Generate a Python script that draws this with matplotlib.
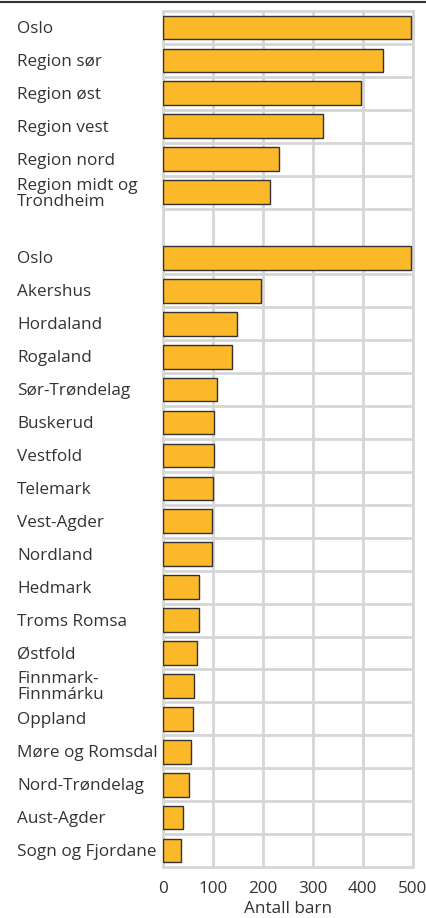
import matplotlib
matplotlib.use("Agg")
import matplotlib.pyplot as plt
from matplotlib.lines import Line2D
import matplotlib.transforms as mtransforms

plt.rcParams['font.family'] = ['Open Sans', 'DejaVu Sans']

categories = ["Oslo", "Region sør", "Region øst", "Region vest", "Region nord",
              "Region midt og\nTrondheim", "",
              "Oslo", "Akershus", "Hordaland", "Rogaland", "Sør-Trøndelag",
              "Buskerud", "Vestfold", "Telemark", "Vest-Agder", "Nordland",
              "Hedmark", "Troms Romsa", "Østfold", "Finnmark-\nFinnmárku",
              "Oppland", "Møre og Romsdal", "Nord-Trøndelag", "Aust-Agder",
              "Sogn og Fjordane"]
values = [496, 440, 397, 321, 232, 215, None,
          496, 196, 149, 138, 109, 102, 102, 100, 98, 98, 73, 72,
          69, 63, 61, 57, 53, 41, 37]
xticks = [0, 100, 200, 300, 400, 500]
xlabel = "Antall barn"

W, H = 426, 918
fig = plt.figure(figsize=(W/100, H/100), dpi=100)
ax = fig.add_axes([163/W, 1-867/H, (412.7-163)/W, (867-11)/H])

text_col = '#333333'
grid_col = '#d6d6d6'
bar_col = '#fbb829'
fs = 12.3

n = len(categories)
pos = list(range(n))
for i, v in zip(pos, values):
    if v is None:
        continue
    ax.barh(i, v, height=0.72, color=bar_col, edgecolor='#333333', linewidth=1.0, zorder=3)

ax.set_xlim(0, 500)
ax.set_ylim(n - 0.5, -0.5)
ax.set_xticks(xticks)
ax.set_xticklabels([str(t) for t in xticks], fontsize=fs, color=text_col)
ax.tick_params(axis='x', length=0, pad=10)
ax.set_yticks([])
ax.grid(axis='x', color=grid_col, linewidth=2, zorder=0)
ax.set_axisbelow(True)
blank = categories.index("")
for k in range(n - 1):
    if k == blank:
        continue
    ax.axhline(k + 0.5, color=grid_col, linewidth=2, zorder=0)
for s in ax.spines.values():
    s.set_color(grid_col)
    s.set_linewidth(2)

ax.set_xlabel(xlabel, fontsize=fs, color=text_col, labelpad=3)

trans = mtransforms.blended_transform_factory(fig.transFigure, ax.transData)
trans = trans + mtransforms.ScaledTranslation(0, -1.5/100, fig.dpi_scale_trans)
for i, c in zip(pos, categories):
    if c:
        ax.text(17/W, i, c, transform=trans, ha='left', va='center',
                fontsize=fs, color=text_col, linespacing=1.0, clip_on=False)

fig.add_artist(Line2D([0, 1], [1-1.5/H, 1-1.5/H], transform=fig.transFigure,
                      color='#333333', linewidth=1.5))

fig.savefig("out.png", dpi=100, facecolor='white')
